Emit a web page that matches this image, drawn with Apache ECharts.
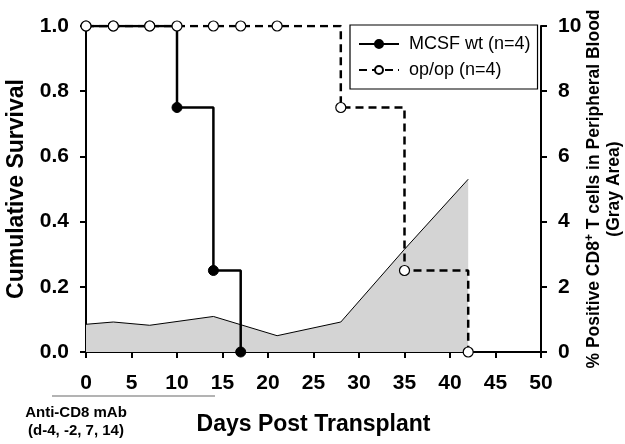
<!DOCTYPE html>
<html>
<head>
<meta charset="utf-8">
<script src="https://cdn.jsdelivr.net/npm/echarts@6/dist/echarts.min.js"></script>
<style>html,body{margin:0;padding:0;background:#fff}#c{width:625px;height:444px}</style>
</head>
<body>
<div id="c"></div>
<script>
// Data
var xTicks = [0, 5, 10, 15, 20, 25, 30, 35, 40, 45, 50];
var mcsfDays = [0, 3, 7, 10, 14, 17];
var mcsfSurvival = [1, 1, 1, 0.75, 0.25, 0];
var opDays = [0, 3, 7, 10, 14, 17, 21, 28, 35, 42];
var opSurvival = [1, 1, 1, 1, 1, 1, 1, 0.75, 0.25, 0];
var cd8Days = [0, 3, 7, 14, 21, 28, 35, 42];
var cd8Percent = [0.85, 0.92, 0.82, 1.09, 0.50, 0.92, 3.15, 5.3];
var leftTicks = [0, 0.2, 0.4, 0.6, 0.8, 1.0];
var rightTicks = [0, 2, 4, 6, 8, 10];

function pairs(xs, ys) { return xs.map(function (x, i) { return [x, ys[i]]; }); }

var FONT = 'Liberation Sans, Arial, Helvetica, sans-serif';
var chart = echarts.init(document.getElementById('c'), null, { renderer: 'canvas' });
chart.setOption({
  animation: false,
  backgroundColor: '#fff',
  textStyle: { fontFamily: FONT },
  grid: { left: 86, right: 84, top: 26, bottom: 92, containLabel: false, outerBoundsMode: 'none' },
  legend: {
    data: ['MCSF wt (n=4)', 'op/op (n=4)'],
    orient: 'vertical',
    left: 350, top: 25,
    padding: [10, 7, 10, 8],
    itemWidth: 40, itemHeight: 10, itemGap: 8,
    borderColor: '#000', borderWidth: 1.2, borderRadius: 0,
    backgroundColor: '#fff',
    textStyle: { fontSize: 18, color: '#000', fontFamily: FONT, padding: [0, 0, 0, 5] }
  },
  xAxis: {
    type: 'value', min: 0, max: 50, interval: 5,
    name: 'Days Post Transplant', nameLocation: 'middle', nameGap: 61,
    nameTextStyle: { fontSize: 23, fontWeight: 'bold', color: '#000' },
    axisLine: { show: true, lineStyle: { color: '#000', width: 2 } },
    axisTick: { show: true, length: 6, lineStyle: { color: '#000', width: 2 } },
    axisLabel: { fontSize: 21, fontWeight: 'bold', color: '#000', margin: 21,
      formatter: function (v) { return xTicks.indexOf(v) >= 0 ? String(v) : ''; } },
    splitLine: { show: false }
  },
  yAxis: [{
    type: 'value', min: 0, max: 1, interval: 0.2, position: 'left',
    name: 'Cumulative Survival', nameLocation: 'middle', nameGap: 58, nameRotate: 90,
    nameTextStyle: { fontSize: 23, fontWeight: 'bold', color: '#000' },
    axisLine: { show: true, lineStyle: { color: '#000', width: 2 } },
    axisTick: { show: true, length: 6, lineStyle: { color: '#000', width: 2 } },
    axisLabel: { fontSize: 21, fontWeight: 'bold', color: '#000', margin: 17,
      formatter: function (v) { return v.toFixed(1); } },
    splitLine: { show: false }
  }, {
    type: 'value', min: 0, max: 10, interval: 2, position: 'right',
    name: '{a|% Positive CD8}{s|+}{a| T cells in Peripheral Blood}\n{a|(Gray Area)}',
    nameLocation: 'middle', nameGap: 43, nameRotate: 90, nameMoveOverlap: false,
    nameTextStyle: {
      color: '#000',
      rich: {
        a: { fontSize: 17.5, fontWeight: 'bold', color: '#000', fontFamily: FONT, lineHeight: 20 },
        s: { fontSize: 12, fontWeight: 'bold', color: '#000', fontFamily: FONT, verticalAlign: 'top', lineHeight: 20 }
      }
    },
    axisLine: { show: true, lineStyle: { color: '#000', width: 2 } },
    axisTick: { show: true, length: 6, lineStyle: { color: '#000', width: 2 } },
    axisLabel: { fontSize: 21, fontWeight: 'bold', color: '#000', margin: 17 },
    splitLine: { show: false }
  }],
  series: [{
    name: 'CD8', type: 'line', yAxisIndex: 1, z: 1,
    data: pairs(cd8Days, cd8Percent),
    showSymbol: false, symbol: 'none',
    lineStyle: { color: '#000', width: 1 },
    areaStyle: { color: '#d4d4d4', opacity: 1 }
  }, {
    name: 'MCSF wt (n=4)', type: 'line', step: 'end', z: 3,
    data: pairs(mcsfDays, mcsfSurvival),
    symbol: 'circle', symbolSize: 10,
    lineStyle: { color: '#000', width: 2.5 },
    itemStyle: { color: '#000', borderColor: '#000', borderWidth: 1 }
  }, {
    name: 'op/op (n=4)', type: 'line', step: 'end', z: 4,
    data: pairs(opDays, opSurvival),
    symbol: 'circle', symbolSize: 10,
    lineStyle: { color: '#000', width: 2.5, type: [8, 5] },
    itemStyle: { color: '#fff', borderColor: '#000', borderWidth: 1.2 }
  }],
  graphic: [{
    type: 'line', silent: true,
    shape: { x1: 52, y1: 396, x2: 215, y2: 396 },
    style: { stroke: '#9a9a9a', lineWidth: 1.5 }
  }, {
    type: 'text', silent: true, x: 76, y: 404,
    style: { text: 'Anti-CD8 mAb\n(d-4, -2, 7, 14)', align: 'center', verticalAlign: 'top',
      font: 'bold 15px ' + FONT, fill: '#000', lineHeight: 18 }
  }]
});
</script>
</body>
</html>
